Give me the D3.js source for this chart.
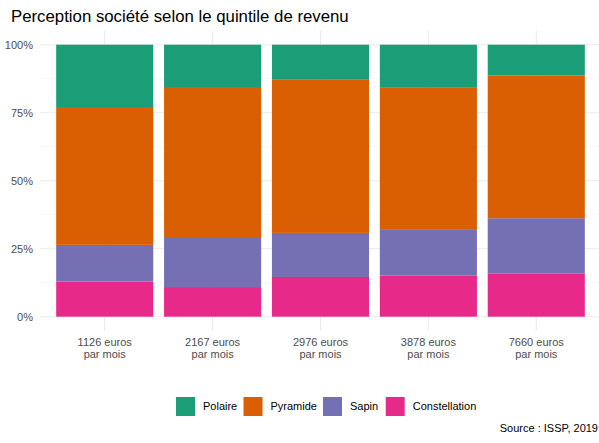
<!DOCTYPE html>
<html>
<head>
<meta charset="utf-8">
<script src="https://cdn.jsdelivr.net/npm/d3@7"></script>
<style>
  body { margin: 0; background: #fff; }
  text { font-family: "Liberation Sans", Arial, sans-serif; }
</style>
</head>
<body>
<svg id="chart" width="599" height="443"></svg>
<script>
const categories = ["1126 euros\npar mois", "2167 euros\npar mois", "2976 euros\npar mois", "3878 euros\npar mois", "7660 euros\npar mois"];
// stack order, bottom to top
const seriesNames = ["Constellation", "Sapin", "Pyramide", "Polaire"];
const constellation = [12.9, 10.9, 14.6, 15.2, 15.8];
const sapin = [13.5, 18.4, 16.2, 17.0, 20.4];
const pyramide = [50.7, 54.8, 56.3, 52.2, 52.5];
const polaire = [22.9, 15.9, 12.9, 15.6, 11.3];
const legendOrder = ["Polaire", "Pyramide", "Sapin", "Constellation"];
const yTicks = [0, 0.25, 0.5, 0.75, 1];
const yMinor = [0.125, 0.375, 0.625, 0.875];

const colors = {
  Polaire: "#1B9E77",
  Pyramide: "#D95F02",
  Sapin: "#7570B3",
  Constellation: "#E7298A"
};

const rows = categories.map((c, i) => {
  const tot = constellation[i] + sapin[i] + pyramide[i] + polaire[i];
  return {
    cat: c,
    Constellation: constellation[i] / tot,
    Sapin: sapin[i] / tot,
    Pyramide: pyramide[i] / tot,
    Polaire: polaire[i] / tot
  };
});

const svg = d3.select("#chart");
const panel = { left: 40, right: 601, top: 31, bottom: 330.5 };

// ggplot-like discrete axis: centers spaced by step, bars 0.9 of step
const step = (panel.right - panel.left) / 5.2;
const xc = d3.scalePoint()
  .domain(categories)
  .range([panel.left + 0.6 * step, panel.right - 0.6 * step]);
const barW = step * 0.9;

const y = d3.scaleLinear().domain([0, 1]).range([316.7, 44.7]);

// grid
const grid = svg.append("g");
grid.selectAll("line.minor")
  .data(yMinor)
  .join("line")
  .attr("x1", panel.left).attr("x2", panel.right)
  .attr("y1", d => y(d)).attr("y2", d => y(d))
  .attr("stroke", "#F2F2F2").attr("stroke-width", 0.6);
grid.selectAll("line.major")
  .data(yTicks)
  .join("line")
  .attr("x1", panel.left).attr("x2", panel.right)
  .attr("y1", d => y(d)).attr("y2", d => y(d))
  .attr("stroke", "#EBEBEB").attr("stroke-width", 1.1);
grid.selectAll("line.vert")
  .data(categories)
  .join("line")
  .attr("x1", d => xc(d)).attr("x2", d => xc(d))
  .attr("y1", panel.top).attr("y2", panel.bottom)
  .attr("stroke", "#EBEBEB").attr("stroke-width", 1.1);

// bars
const stack = d3.stack().keys(seriesNames)(rows);
svg.append("g")
  .selectAll("g")
  .data(stack)
  .join("g")
  .attr("fill", d => colors[d.key])
  .selectAll("rect")
  .data(d => d)
  .join("rect")
  .attr("x", d => xc(d.data.cat) - barW / 2)
  .attr("width", barW)
  .attr("y", d => y(d[1]))
  .attr("height", d => y(d[0]) - y(d[1]));

// y axis labels
svg.append("g")
  .selectAll("text")
  .data(yTicks)
  .join("text")
  .attr("x", 33)
  .attr("y", d => y(d))
  .attr("dy", "0.35em")
  .attr("text-anchor", "end")
  .attr("font-size", 11)
  .attr("fill", "#4D4D4D")
  .text(d => d3.format(".0%")(d));

// x axis labels
svg.append("g")
  .selectAll("text")
  .data(categories)
  .join("text")
  .attr("text-anchor", "middle")
  .attr("font-size", 11)
  .attr("fill", "#4D4D4D")
  .each(function (d) {
    d3.select(this)
      .selectAll("tspan")
      .data(d.split("\n"))
      .join("tspan")
      .attr("x", xc(d))
      .attr("y", (_, i) => 346 + i * 12)
      .text(l => l);
  });

// title
svg.append("text")
  .attr("x", 11)
  .attr("y", 22)
  .attr("font-size", 16.8)
  .attr("fill", "#000")
  .text("Perception société selon le quintile de revenu");

// legend
const legendX = [176, 243.5, 323, 385.7];
const lg = svg.append("g")
  .selectAll("g")
  .data(legendOrder)
  .join("g")
  .attr("transform", (d, i) => `translate(${legendX[i]}, 397)`);
lg.append("rect")
  .attr("width", 19).attr("height", 19)
  .attr("fill", d => colors[d]);
lg.append("text")
  .attr("x", 27)
  .attr("y", 9.5)
  .attr("dy", "0.35em")
  .attr("font-size", 11)
  .attr("fill", "#000")
  .text(d => d);

// caption
svg.append("text")
  .attr("x", 598)
  .attr("y", 432)
  .attr("text-anchor", "end")
  .attr("font-size", 11)
  .attr("fill", "#000")
  .text("Source : ISSP, 2019");
</script>
</body>
</html>
